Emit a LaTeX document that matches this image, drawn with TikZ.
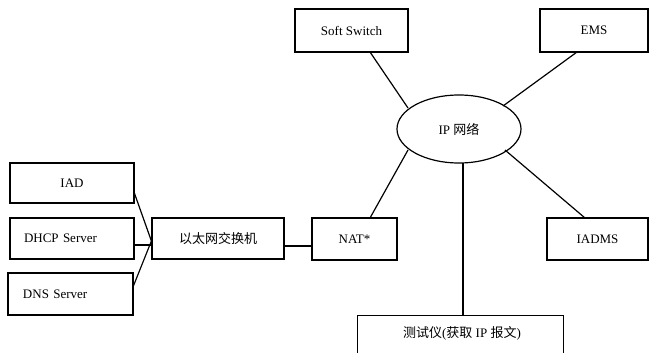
\documentclass[tikz,border=0pt]{standalone}
\usepackage{fontspec}
\setmainfont{Liberation Serif}
\newfontfamily\cjk{Noto Sans CJK SC}
\usetikzlibrary{shapes.geometric}
\begin{document}
\begin{tikzpicture}[x=1pt,y=-1pt,
  lbl/.style={font=\fontsize{13}{15}\selectfont},
  box/.style={draw,line width=1.2pt,rectangle,inner sep=0pt,lbl},
  link/.style={line width=1.2pt}]
\useasboundingbox (0,0) rectangle (650,353);
\begin{scope}
\clip (0,0) rectangle (650,353);
% boxes
\node[box,minimum width=113pt,minimum height=43pt] (ss) at (351.5,30.5) {Soft Switch};
\node[box,minimum width=108pt,minimum height=43pt] (ems) at (594,30.5) {EMS};
\node[draw,line width=1.2pt,ellipse,minimum width=124pt,minimum height=68pt,inner sep=0pt,lbl] (ip) at (459,129) {IP {\cjk 网络}};
\node[box,minimum width=124pt,minimum height=40pt] (iad) at (72,183) {IAD};
\node[box,minimum width=124pt,minimum height=41pt,align=left,text width=96pt] (dhcp) at (72,238.5) {DHCP Server};
\node[box,minimum width=125pt,minimum height=42pt,align=left,text width=95pt] (dns) at (70.5,294) {DNS Server};
\node[box,minimum width=132pt,minimum height=41pt] (sw) at (218,238.5) {\cjk 以太网交换机};
\node[box,minimum width=85pt,minimum height=42pt] (nat) at (354.5,239) {NAT*};
\node[box,minimum width=101pt,minimum height=42pt] (iadms) at (597.5,239) {IADMS};
\node[box,minimum width=206pt,minimum height=44pt,anchor=north] (test) at (460.5,315) {};
\node[lbl] (testlbl) at (462,333) {{\cjk 测试仪}({\cjk 获取} IP {\cjk 报文})};
% connection points
\coordinate (swin) at (sw.west |- 0,241);
\coordinate (iadout) at (134,192);
\coordinate (dnsout) at (133,287);
\coordinate (dhcpout) at (dhcp.east |- 0,245);
\coordinate (swr) at (sw.east |- 0,246);
\coordinate (natl) at (nat.west |- 0,246);
\coordinate (sstop) at (370,52);
\coordinate (ssip) at (408,108);
\coordinate (emsb) at (577,52);
\coordinate (emsip) at (503,106);
\coordinate (natip) at (408,150);
\coordinate (natt) at (370,218);
\coordinate (testip) at (463,163);
\coordinate (testt) at (463,315);
\coordinate (iadmsip) at (505,150);
\coordinate (iadmst) at (585,218);
\draw[link] (iadout) -- (swin);
\draw[link] (dnsout) -- (swin);
\draw[link] (dhcpout) -- (sw.west |- dhcpout);
\draw[link] (swr) -- (natl);
\draw[link] (sstop) -- (ssip);
\draw[link] (emsb) -- (emsip);
\draw[link] (natip) -- (natt);
\draw[link] (testip) -- (testt);
\draw[link] (iadmsip) -- (iadmst);
\end{scope}
\end{tikzpicture}
\end{document}
